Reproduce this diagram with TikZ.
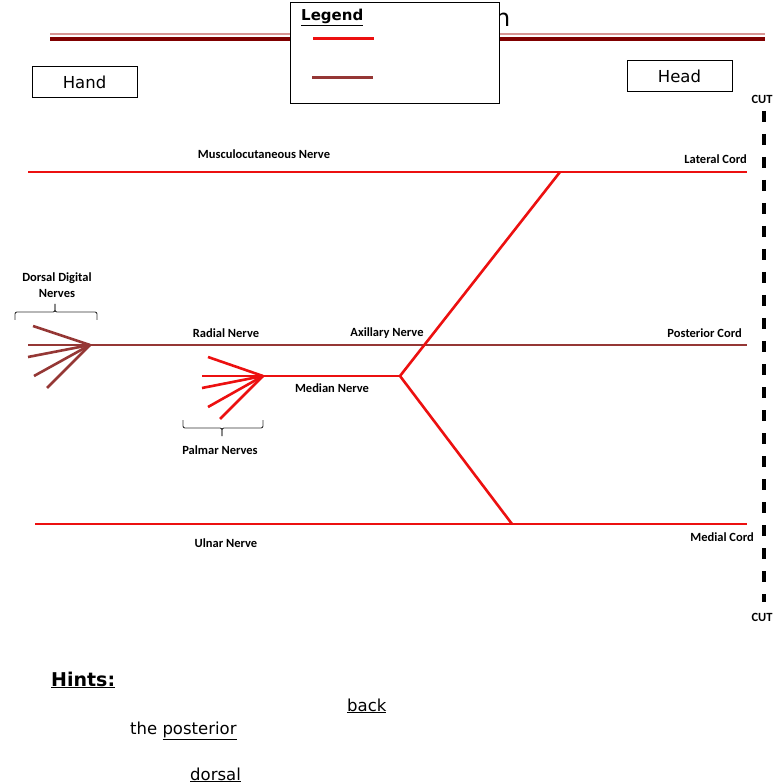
\documentclass[tikz,border=0pt]{standalone}
\usepackage{fontspec}
\setmainfont{DejaVu Sans}
\newfontfamily\calfont{Carlito}
\definecolor{nerveRed}{RGB}{236,16,16}
\definecolor{nerveBrown}{RGB}{149,55,53}
\definecolor{titleDark}{RGB}{128,0,0}
\definecolor{titleLight}{RGB}{217,150,148}
\begin{document}
\begin{tikzpicture}[x=1pt,y=-1pt,
  lbl/.style={font=\calfont\bfseries\fontsize{12.5}{16}\selectfont, inner sep=0pt},
  nred/.style={draw=nerveRed, line width=2.6pt},
  nbrown/.style={draw=nerveBrown, line width=2.6pt},
  bracestyle/.style={draw=black!80, line width=0.9pt, rounded corners=2pt},
  endbox/.style={draw=black, line width=1pt, fill=white, inner sep=0pt,
    minimum width=105pt, minimum height=31pt, font=\fontsize{16.5}{20}\selectfont},
  hint/.style={anchor=base west, inner sep=0pt, font=\fontsize{16.5}{20}\selectfont}
]
\useasboundingbox (0,0) rectangle (784,783);

% title remnant and double rule
\node[anchor=base west, inner sep=0pt, font=\fontsize{24}{28}\selectfont] (titleN) at (495,27) {n};
\coordinate (tlL) at (50,34); \coordinate (tlR) at (765,34);
\coordinate (tdL) at (50,39); \coordinate (tdR) at (765,39);
\draw[titleLight, line width=1.5pt] (tlL) -- (tlR);
\draw[titleDark, line width=3.5pt] (tdL) -- (tdR);

% legend
\node[draw=black, line width=1pt, fill=white, minimum width=209pt, minimum height=101pt,
  anchor=north west, inner sep=0pt] (legend) at (290,2) {};
\node[anchor=base west, inner sep=0pt, font=\bfseries\fontsize{15}{18}\selectfont] (legendT) at (301,21) {\underline{Legend}};
\coordinate (lgRa) at (313,39); \coordinate (lgRb) at (374,39);
\coordinate (lgBa) at (312,77.5); \coordinate (lgBb) at (373,77.5);
\draw[nred, line width=3pt] (lgRa) -- (lgRb);
\draw[nbrown, line width=3pt] (lgBa) -- (lgBb);

% end boxes
\node[endbox] (hand) at (84.5,82.5) {Hand};
\node[endbox] (head) at (679.5,76.5) {Head};

% cut line
\node[lbl] (cutTop) at (762,99) {CUT};
\node[lbl] (cutBot) at (762,617) {CUT};
\coordinate (cutA) at (764,111); \coordinate (cutB) at (764,602);
\draw[black, line width=3.2pt, dash pattern=on 11pt off 12pt] (cutA) -- (cutB);

% coordinates of nerves
\coordinate (latL) at (28,172); \coordinate (latR) at (747,172); \coordinate (latJ) at (560,172);
\coordinate (posL) at (90,345); \coordinate (posR) at (747,345);
\coordinate (medL) at (35,524); \coordinate (medR) at (747,524); \coordinate (medJ) at (512,524);
\coordinate (mJ) at (400,376); \coordinate (palm) at (263,376);

% dorsal digital fan
\coordinate (d1) at (33,326); \coordinate (d2) at (28,345); \coordinate (d3) at (28,357);
\coordinate (d4) at (34,376); \coordinate (d5) at (47,388);
\foreach \p in {d1,d2,d3,d4,d5} \draw[nbrown] (posL) -- (\p);

% palmar fan
\coordinate (p1) at (208,357); \coordinate (p2) at (202,376); \coordinate (p3) at (202,388);
\coordinate (p4) at (208,407); \coordinate (p5) at (220,419);
\foreach \p in {p1,p2,p3,p4,p5} \draw[nred] (palm) -- (\p);

\draw[nred] (latL) -- (latR);
\draw[nbrown] (posL) -- (posR);
\draw[nred] (medL) -- (medR);
\draw[nred] (palm) -- (mJ);
\draw[nred] (mJ) -- (latJ);
\draw[nred] (mJ) -- (medJ);

% braces
\draw[bracestyle] (15,320) -- (15,312) -- (55,312) -- (55,304);
\draw[bracestyle] (55,304) -- (55,312) -- (97,312) -- (97,320);
\draw[bracestyle] (183,420) -- (183,428) -- (222,428) -- (222,436);
\draw[bracestyle] (222,436) -- (222,428) -- (263,428) -- (263,420);

% labels
\node[lbl] (musc) at (264,154) {Musculocutaneous Nerve};
\node[lbl, anchor=east] (latC) at (747,159) {Lateral Cord};
\node[lbl, align=center] (ddn) at (57,285) {Dorsal Digital\\Nerves};
\node[lbl] (rad) at (226,333) {Radial Nerve};
\node[lbl] (axi) at (387,333) {Axillary Nerve};
\node[lbl, anchor=east] (posC) at (742,333) {Posterior Cord};
\node[lbl] (medN) at (332,388) {Median Nerve};
\node[lbl] (palN) at (220,450) {Palmar Nerves};
\node[lbl] (ulN) at (226,543) {Ulnar Nerve};
\node[lbl, anchor=east] (medC) at (754,537) {Medial Cord};

% hints
\node[anchor=base west, inner sep=0pt, font=\bfseries\fontsize{19}{22}\selectfont] (hints) at (51,686) {\underline{Hints:}};
\node[hint] (back) at (347,711) {\underline{back}};
\node[hint] (post) at (130,734) {the \underline{posterior}};
\node[hint] (dors) at (190,780) {\underline{dorsal}};
\end{tikzpicture}
\end{document}
